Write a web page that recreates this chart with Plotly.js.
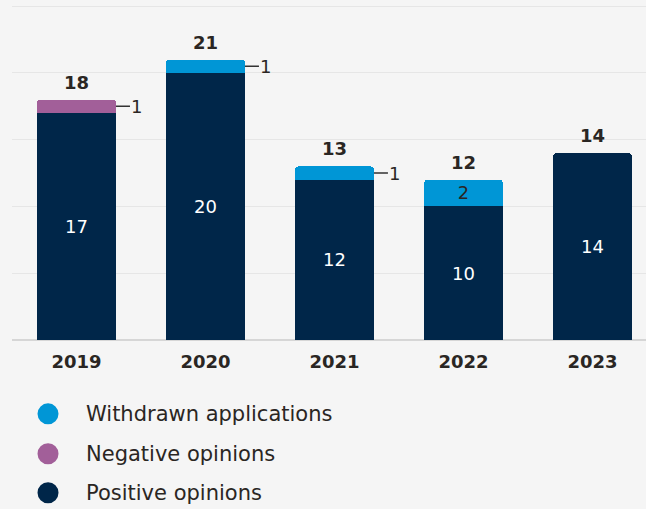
<!DOCTYPE html>
<html>
<head>
<meta charset="utf-8">
<script src="https://cdn.plot.ly/plotly-3.0.1.min.js"></script>
<style>html,body{margin:0;padding:0;background:#f5f5f5;}</style>
</head>
<body>
<div id="chart" style="width:646px;height:509px;"></div>
<script>
var years = ['2019', '2020', '2021', '2022', '2023'];
var positiveOpinions = [17, 20, 12, 10, 14];
var negativeOpinions = [1, 0, 0, 0, 0];
var withdrawnApplications = [0, 1, 1, 2, 0];
var seriesNames = ['Positive opinions', 'Negative opinions', 'Withdrawn applications'];
var colors = ['#002649', '#a25f99', '#0096d6'];

var BAR_W = 0.612;
var textDark = '#2a2623';
var fontFam = 'DejaVu Sans, Verdana, sans-serif';

function insideText(vals, minV) {
  return vals.map(function (v) { return v >= minV ? String(v) : ''; });
}

function barTrace(k, vals, txtColor) {
  return {type: 'bar', name: seriesNames[k], x: years, y: vals, width: BAR_W,
    marker: {color: colors[k]}, text: insideText(vals, 2), textposition: 'inside',
    insidetextanchor: 'middle', textangle: 0, constraintext: 'none',
    textfont: {color: txtColor, size: 18, family: fontFam},
    hoverinfo: 'skip', showlegend: false};
}

var traces = [
  barTrace(0, positiveOpinions, '#ffffff'),
  barTrace(1, negativeOpinions, textDark),
  barTrace(2, withdrawnApplications, textDark)
];

var annotations = [];
var shapes = [];
years.forEach(function (yr, i) {
  var total = positiveOpinions[i] + negativeOpinions[i] + withdrawnApplications[i];
  annotations.push({x: i, y: total, xref: 'x', yref: 'y', text: '<b>' + total + '</b>',
    showarrow: false, yanchor: 'bottom', yshift: 5,
    font: {size: 18, color: textDark, family: fontFam}});
  var segs = [negativeOpinions, withdrawnApplications];
  var segBase = positiveOpinions[i];
  segs.forEach(function (arr) {
    var v = arr[i];
    if (v === 1) {
      annotations.push({x: i + BAR_W / 2, y: segBase + v / 2, xref: 'x', yref: 'y',
        text: String(v), showarrow: true, arrowhead: 0, arrowwidth: 1.5, arrowcolor: '#333333',
        ax: 21, ay: 0, standoff: 0, startstandoff: 0,
        font: {size: 18, color: textDark, family: fontFam}});
    }
    segBase += v;
  });
});

var legendOrder = [2, 1, 0];
var legendY = [-0.2203, -0.3397, -0.4561];
legendOrder.forEach(function (s, j) {
  shapes.push({type: 'circle', xref: 'paper', yref: 'paper', xsizemode: 'pixel', ysizemode: 'pixel',
    xanchor: 0.0568, yanchor: legendY[j], x0: -10.5, x1: 10.5, y0: -10.5, y1: 10.5,
    fillcolor: colors[s], line: {width: 0}});
  annotations.push({xref: 'paper', yref: 'paper', x: 0.1136, y: legendY[j], xanchor: 'left',
    yanchor: 'middle', text: seriesNames[s], showarrow: false,
    font: {size: 21, color: textDark, family: fontFam}});
});

var layout = {
  width: 646, height: 509,
  margin: {l: 12, r: 0, t: 5, b: 169},
  paper_bgcolor: '#f5f5f5', plot_bgcolor: '#f5f5f5',
  barmode: 'stack', barcornerradius: 4,
  showlegend: false,
  font: {family: fontFam, color: textDark},
  xaxis: {type: 'category', range: [-0.5, 4.415], showgrid: false, zeroline: false,
    showline: false, ticks: '', ticklabelstandoff: 9,
    tickfont: {size: 18, color: textDark, family: fontFam, weight: 'bold'},
    fixedrange: true},
  yaxis: {range: [0, 25.08], tickvals: [0, 5, 10, 15, 20, 25], showticklabels: false, showgrid: true,
    gridcolor: '#e6e6e6', gridwidth: 1, zeroline: true, zerolinecolor: '#d6d6d6', zerolinewidth: 2,
    fixedrange: true},
  annotations: annotations,
  shapes: shapes
};

Plotly.newPlot('chart', traces, layout, {displayModeBar: false, staticPlot: true});
</script>
</body>
</html>
